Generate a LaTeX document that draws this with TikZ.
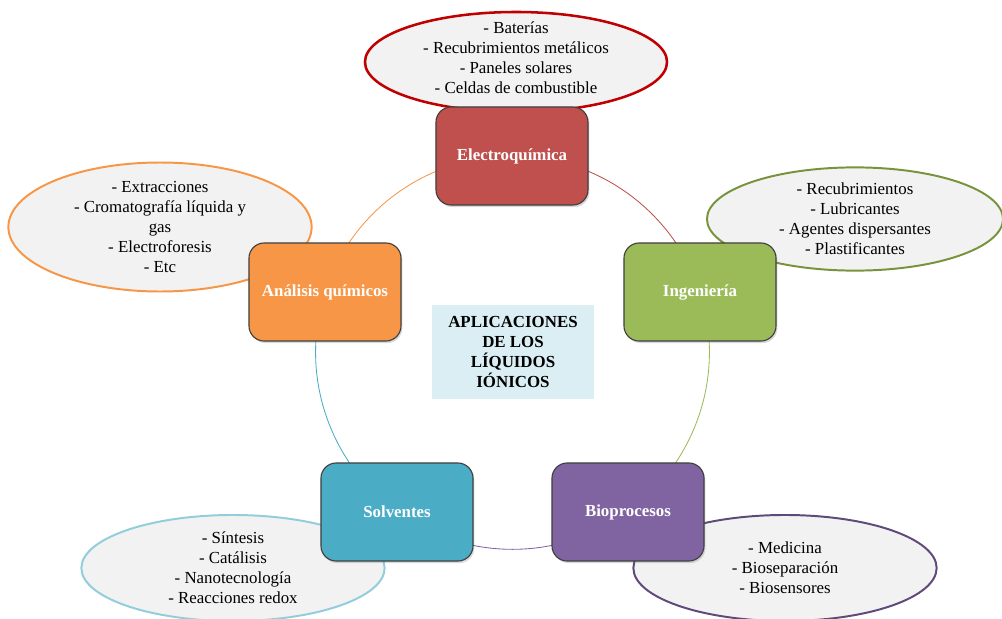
\documentclass[tikz,border=0pt]{standalone}
\usepackage{fontspec}
\setmainfont{Liberation Serif}
\usetikzlibrary{shapes.geometric,shadows,backgrounds}

\definecolor{electro}{HTML}{C0504D}
\definecolor{inge}{HTML}{9BBB59}
\definecolor{anal}{HTML}{F79646}
\definecolor{solv}{HTML}{4BACC6}
\definecolor{bio}{HTML}{8064A2}
\definecolor{electroline}{HTML}{C00000}
\definecolor{ingeline}{HTML}{77933C}
\definecolor{solvline}{HTML}{92CDDC}
\definecolor{bioline}{HTML}{5F497A}
\definecolor{usefill}{HTML}{F2F2F2}
\definecolor{titlefill}{HTML}{DAEEF3}

\begin{document}
\begin{tikzpicture}[x=0.025cm,y=-0.025cm,
    area/.style={rectangle, rounded corners=0.38cm, draw=black!75, line width=0.8pt,
        fill=#1, text=white, font=\fontsize{12}{14.2}\selectfont\bfseries,
        minimum width=3.8cm, minimum height=2.45cm,
        drop shadow={opacity=0.3, shadow xshift=1pt, shadow yshift=-1.5pt}},
    uses/.style={ellipse, draw=#1, line width=1.4pt, fill=usefill, align=center,
        inner sep=0pt, minimum width=7.58cm, minimum height=2.65cm,
        font=\fontsize{12}{14.2}\selectfont},
    ring/.style={draw=#1, line width=0.6pt}
    ]
    \useasboundingbox (0,0) rectangle (1002,619);

    % the uses of each field
    \node[uses=electroline, line width=1.8pt, minimum width=7.55cm, minimum height=2.5cm,
        label={[align=center, font=\fontsize{12}{14.2}\selectfont, yshift=0.1cm]center:- Baterías\\- Recubrimientos metálicos\\- Paneles solares\\- Celdas de combustible}]
        (uElectro) at (516,62) {};
    \node[uses=ingeline, minimum width=7.4cm, minimum height=2.58cm] (uInge) at (855,219)
        {- Recubrimientos\\- Lubricantes\\- Agentes dispersantes\\- Plastificantes};
    \node[uses=anal] (uAnal) at (160,227)
        {- Extracciones\\- Cromatografía líquida y\\gas\\- Electroforesis\\- Etc};
    \node[uses=solvline] (uSolv) at (233,568)
        {- Síntesis\\- Catálisis\\- Nanotecnología\\- Reacciones redox};
    \node[uses=bioline] (uBio) at (785,568)
        {- Medicina\\- Bioseparación\\- Biosensores};

    % the five fields
    \node[area=electro] (electro) at (512,156) {Electroquímica};
    \node[area=inge] (inge) at (700,292) {Ingeniería};
    \node[area=bio] (bio) at (628,512) {Bioprocesos};
    \node[area=solv] (solv) at (397,512) {Solventes};
    \node[area=anal] (anal) at (325,292) {Análisis químicos};

    \node[fill=titlefill, align=center, minimum width=4.05cm, minimum height=2.35cm,
        font=\fontsize{12}{14.2}\selectfont\bfseries] (title) at (513,352)
        {APLICACIONES\\DE LOS\\LÍQUIDOS\\IÓNICOS};

    % ring between the fields
    \begin{scope}[on background layer]
    \path[every edge/.style={draw, bend left=36, looseness=0.94}]
        (electro.center) edge[ring=electro] (inge.center)
        (inge.center) edge[ring=inge] (bio.center)
        (bio.center) edge[ring=bio] (solv.center)
        (solv.center) edge[ring=solv] (anal.center)
        (anal.center) edge[ring=anal] (electro.center)
    ;
    \end{scope}
\end{tikzpicture}
\end{document}
